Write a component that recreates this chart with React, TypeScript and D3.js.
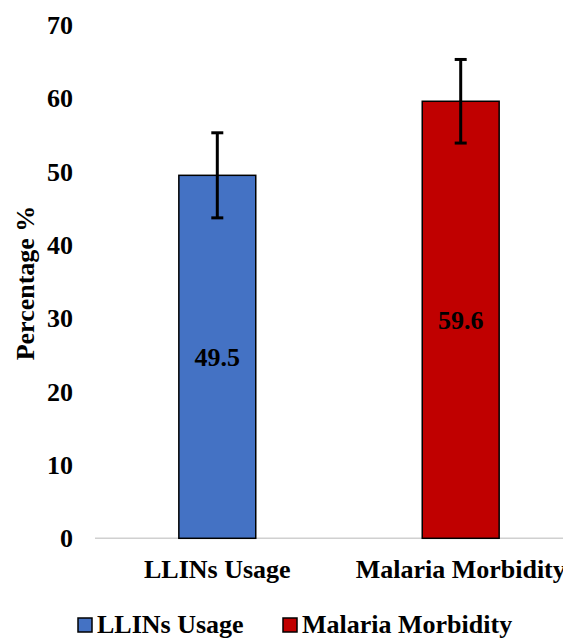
import React from "react";
import * as d3 from "d3";

const categories = ["LLINs Usage", "Malaria Morbidity"];
const values = [49.5, 59.6];
const errors = [5.8, 5.7];
const colors = ["#4472C4", "#C00000"];
const yTicks = [0, 10, 20, 30, 40, 50, 60, 70];

const W = 571;
const H = 639;
const FAM = "Liberation Serif";
const FS = 26;

function T(props: any) {
  const { children, ...rest } = props;
  return (
    <text fontFamily={FAM} fontWeight="bold" fontSize={FS} style={{ fontFamily: "'Liberation Serif'" }} {...rest}>
      {children}
    </text>
  );
}

export default function App() {
  const x = d3.scaleBand<string>().domain(categories).range([95.6, 582.4]).paddingInner(0.684).paddingOuter(0.342);
  const y = d3.scaleLinear().domain([0, 70]).range([538.3, 25]);
  const bw = x.bandwidth();
  return (
    <svg width={W} height={H} style={{ display: "block", marginLeft: -8, marginTop: -8 }}>
      <style>{`text { font-family: 'Liberation Serif', 'Times New Roman', Times, serif !important; font-weight: bold; }`}</style>
      <line x1={95} x2={571} y1={y(0)} y2={y(0)} stroke="#d0d0d0" strokeWidth={1.5} />
      {yTicks.map((t) => (
        <T key={t} x={73} y={y(t)} dy="0.35em" textAnchor="end">{t}</T>
      ))}
      <T transform={`translate(34,283) rotate(-90)`} textAnchor="middle">Percentage %</T>
      {categories.map((c, i) => {
        const bx = x(c)!;
        const cx = bx + bw / 2;
        return (
          <g key={c}>
            <rect x={bx} y={y(values[i])} width={bw} height={y(0) - y(values[i])} fill={colors[i]} stroke="#000" strokeWidth={1.5} />
            <line x1={cx} x2={cx} y1={y(values[i] + errors[i])} y2={y(values[i] - errors[i])} stroke="#000" strokeWidth={3} />
            <line x1={cx - 6} x2={cx + 6} y1={y(values[i] + errors[i])} y2={y(values[i] + errors[i])} stroke="#000" strokeWidth={3} />
            <line x1={cx - 6} x2={cx + 6} y1={y(values[i] - errors[i])} y2={y(values[i] - errors[i])} stroke="#000" strokeWidth={3} />
            <T x={cx} y={(y(values[i]) + y(0)) / 2} dy="0.35em" textAnchor="middle">{values[i]}</T>
            <T x={cx} y={578} textAnchor="middle">{c}</T>
          </g>
        );
      })}
      {categories.map((c, i) => {
        const lx = [78, 283][i];
        return (
          <g key={"l" + c}>
            <rect x={lx} y={618} width={14} height={14} fill={colors[i]} stroke="#000" strokeWidth={1.5} />
            <T x={lx + 19} y={633}>{c}</T>
          </g>
        );
      })}
    </svg>
  );
}
